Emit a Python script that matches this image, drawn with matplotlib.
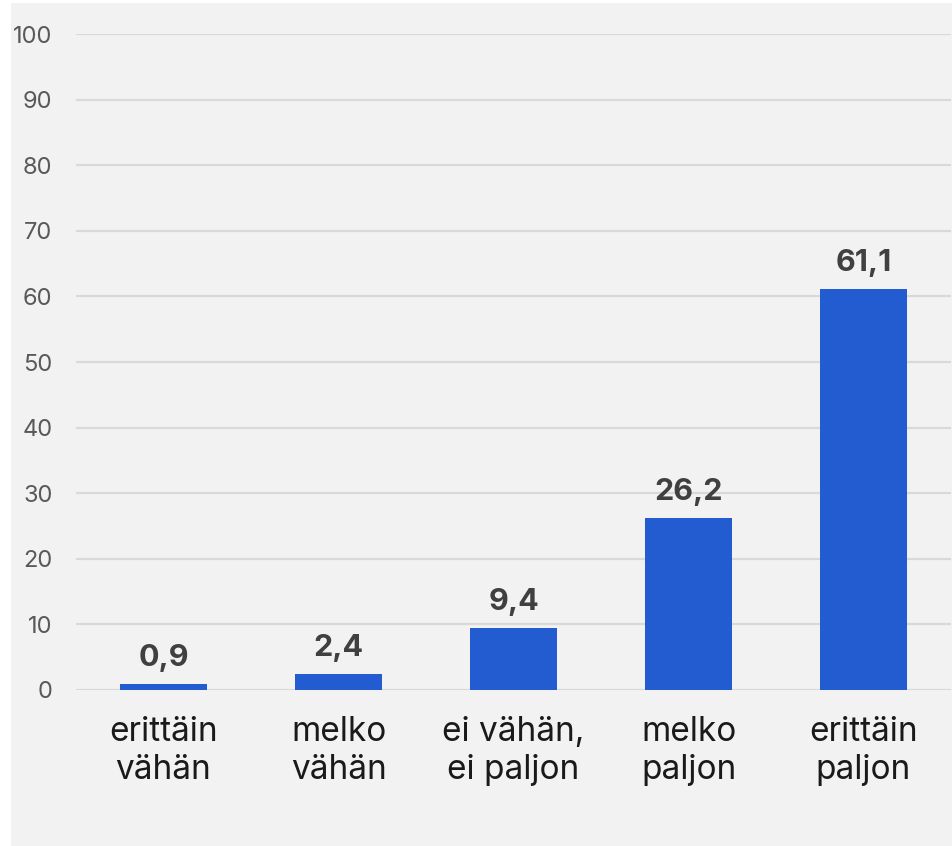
import matplotlib.pyplot as plt
from matplotlib.patches import Rectangle

# data
categories = ["erittäin\nvähän", "melko\nvähän", "ei vähän,\nei paljon", "melko\npaljon", "erittäin\npaljon"]
values = [0.9, 2.4, 9.4, 26.2, 61.1]
value_labels = ["0,9", "2,4", "9,4", "26,2", "61,1"]
yticks = [0, 10, 20, 30, 40, 50, 60, 70, 80, 90, 100]

plt.rcParams['font.family'] = ['Inter', 'DejaVu Sans']

fig = plt.figure(figsize=(9.53, 8.46), dpi=100)
fig.patch.set_facecolor('white')
# gray panel behind the chart
fig.patches.append(Rectangle((11 / 953, 0), 1 - 11 / 953, 1 - 3 / 846,
                             transform=fig.transFigure, facecolor='#f2f2f2',
                             edgecolor='none', zorder=-10))

ax = fig.add_axes([76 / 953, 1 - 690 / 846, 875 / 953, 656 / 846])
ax.set_facecolor('none')

x = range(len(categories))
ax.bar(x, values, width=0.5, color='#235bd1', zorder=3)

for xi, v, lab in zip(x, values, value_labels):
    ax.annotate(lab, (xi, v), xytext=(0, 9), textcoords='offset points',
                ha='center', va='bottom', fontsize=22, fontweight='bold',
                color='#404040')

ax.set_xlim(-0.5, 4.5)
ax.set_ylim(0, 100)
ax.set_yticks(yticks)
ax.set_yticklabels([str(t) for t in yticks], fontsize=17, color='#595959')
ax.set_xticks(list(x))
ax.set_xticklabels(categories, fontsize=24, color='#1a1a1a', linespacing=1.22)
ax.tick_params(axis='y', length=0, pad=17)
ax.tick_params(axis='x', length=0, pad=19)

ax.grid(axis='y', color='#d9d9d9', linewidth=1.6, zorder=0)
for s in ax.spines.values():
    s.set_visible(False)

fig.savefig('out.png', dpi=100)
